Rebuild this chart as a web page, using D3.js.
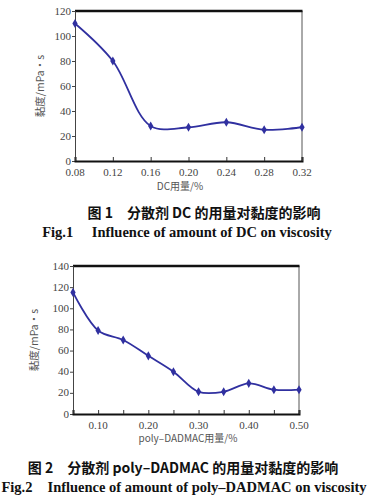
<!DOCTYPE html>
<html><head><meta charset="utf-8">
<script src="https://cdn.jsdelivr.net/npm/d3@7"></script>
<style>body{margin:0;background:#fff;}svg{display:block;}</style>
</head><body>
<script>
// Chart 1 data
const dcDose = [0.08, 0.12, 0.16, 0.20, 0.24, 0.28, 0.32];
const dcVisc = [110, 80, 28, 27, 31, 25, 27];
const dcXTicks = [0.08, 0.12, 0.16, 0.20, 0.24, 0.28, 0.32];
const dcYTicks = [0, 20, 40, 60, 80, 100, 120];
// Chart 2 data
const pdDose = [0.05, 0.10, 0.15, 0.20, 0.25, 0.30, 0.35, 0.40, 0.45, 0.50];
const pdVisc = [115, 79, 70, 55, 40, 21, 21, 29, 23, 23];
const pdXTicks = [0.05, 0.10, 0.15, 0.20, 0.25, 0.30, 0.35, 0.40, 0.45, 0.50];
const pdXLabels = [0.10, 0.20, 0.30, 0.40, 0.50];
const pdYTicks = [0, 20, 40, 60, 80, 100, 120, 140];

const W = 369, H = 497;
const svg = d3.select("body").append("svg").attr("width", W).attr("height", H);
const lineColor = "#3030a0";
const serif = "'Liberation Serif', 'DejaVu Serif', serif";
const cjk = "'Noto Sans CJK SC', 'Noto Sans', sans-serif";

function chart(o) {
  const x = d3.scaleLinear().domain(o.xDomain).range([o.left, o.right]);
  const y = d3.scaleLinear().domain(o.yDomain).range([o.bottom, o.top]);
  const g = svg.append("g");
  g.append("line").attr("x1", o.right).attr("x2", o.right).attr("y1", o.top).attr("y2", o.bottom)
    .attr("stroke", "#555").attr("stroke-width", 1);
  g.append("line").attr("x1", o.left).attr("x2", o.right + 0.5).attr("y1", o.top).attr("y2", o.top)
    .attr("stroke", "#111").attr("stroke-width", 2.5);
  const ya = g.append("g").attr("transform", `translate(${o.left},0)`)
    .call(d3.axisLeft(y).tickValues(o.yTicks).tickSize(3).tickFormat(d3.format("d")));
  ya.attr("font-family", null);
  ya.select(".domain").attr("stroke", "#444");
  ya.selectAll(".tick line").attr("stroke", "#444");
  ya.selectAll("text").style("font-family", serif).style("font-size", "11px").attr("fill", "#444")
    .attr("x", -4).attr("dy", "0.28em");
  const xa = g.append("g").attr("transform", `translate(0,${o.bottom})`)
    .call(d3.axisBottom(x).tickValues(o.xTicks).tickSize(-4).tickFormat(""));
  xa.select(".domain").attr("stroke", "#111").attr("stroke-width", 2);
  xa.selectAll(".tick line").attr("stroke", "#333");
  g.append("g").selectAll("text").data(o.xLabels).join("text")
    .attr("x", d => x(d)).attr("y", o.bottom + 15)
    .attr("text-anchor", "middle").style("font-family", serif).style("font-size", "11px").attr("fill", "#444")
    .text(d => d3.format(".2f")(d));
  const line = d3.line().x((d, i) => x(o.xs[i])).y(d => y(d)).curve(d3.curveCatmullRom.alpha(0.5));
  g.append("path").datum(o.ys).attr("d", line).attr("fill", "none")
    .attr("stroke", lineColor).attr("stroke-width", 1.8);
  g.append("g").selectAll("path").data(o.ys).join("path")
    .attr("transform", (d, i) => `translate(${x(o.xs[i])},${y(d)})`)
    .attr("d", d3.symbol(d3.symbolDiamond, 24)).attr("fill", lineColor);
  g.append("text").attr("transform", `translate(${o.yTitleX},${(o.top + o.bottom) / 2}) rotate(-90)`)
    .attr("text-anchor", "middle").style("font-family", cjk).style("font-size", "10.5px").attr("fill", "#555")
    .text("黏度/mPa·s");
  g.append("text").attr("x", o.xTitleX).attr("y", o.bottom + o.xTitleDy)
    .attr("text-anchor", "middle").style("font-family", cjk).style("font-size", "10px").attr("fill", "#555")
    .text(o.xTitle);
  g.append("text").attr("x", o.capX).attr("y", o.capY).attr("text-anchor", "middle")
    .style("font-family", cjk).style("font-size", o.capSize1 + "px").attr("font-weight", "bold").attr("fill", "#111")
    .style("white-space", "pre").text(o.cap1);
  g.append("text").attr("x", o.capX2).attr("y", o.capY + 19).attr("text-anchor", "middle")
    .style("font-family", serif).style("font-size", o.capSize2 + "px").attr("font-weight", "bold").attr("fill", "#111")
    .style("white-space", "pre").text(o.cap2);
}

chart({
  xDomain: [0.08, 0.32], yDomain: [0, 120],
  left: 75, right: 302, top: 11, bottom: 161,
  xs: dcDose, ys: dcVisc, xTicks: dcXTicks, xLabels: dcXTicks, yTicks: dcYTicks,
  yTitleX: 44, xTitleX: 180, xTitleDy: 29, xTitle: "DC用量/%",
  capX: 204, capY: 218, capX2: 187, capSize1: 14, capSize2: 14.5,
  cap1: "图 1　分散剂 DC 的用量对黏度的影响",
  cap2: "Fig.1　 Influence of amount of DC on viscosity"
});
chart({
  xDomain: [0.05, 0.50], yDomain: [0, 140],
  left: 73, right: 299, top: 266, bottom: 414,
  xs: pdDose, ys: pdVisc, xTicks: pdXTicks, xLabels: pdXLabels, yTicks: pdYTicks,
  yTitleX: 38, xTitleX: 188, xTitleDy: 28, xTitle: "poly–DADMAC用量/%",
  capX: 183, capY: 473, capX2: 184, capSize1: 14, capSize2: 14.5,
  cap1: "图 2　分散剂 poly–DADMAC 的用量对黏度的影响",
  cap2: "Fig.2　Influence of amount of poly–DADMAC on viscosity"
});
</script>
</body></html>
